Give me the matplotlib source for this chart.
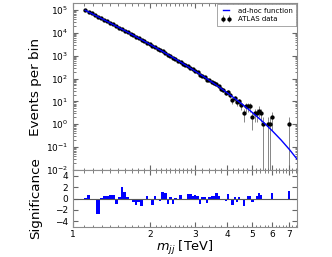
import numpy as np
import matplotlib
matplotlib.use("Agg")
import matplotlib.pyplot as plt
from matplotlib.ticker import FixedLocator, FuncFormatter, NullFormatter

# ---- data ----
edges_gev = [1100, 1133, 1166, 1200, 1234, 1269, 1305, 1341, 1378, 1416, 1454, 1493,
             1533, 1573, 1614, 1656, 1698, 1741, 1785, 1830, 1875, 1921, 1968, 2016,
             2065, 2114, 2164, 2215, 2267, 2320, 2374, 2429, 2485, 2542, 2600, 2659,
             2719, 2780, 2842, 2905, 2969, 3034, 3100, 3167, 3235, 3305, 3376, 3448,
             3521, 3596, 3672, 3749, 3827, 3907, 3988, 4070, 4154, 4239, 4326, 4414,
             4504, 4595, 4688, 4782, 4878, 4975, 5074, 5175, 5277, 5381, 5487, 5595,
             5705, 5817, 5931, 6047, 6165, 6285, 6407, 6531, 6658, 6787, 6918, 7052]

counts = [96430, 82510, 70120, 59620, 49980, 43380, 37170, 31740, 27000, 23230,
          19760, 17060, 14810, 12540, 10720, 9190, 7870, 6710, 5780, 4940,
          4330, 3750, 3190, 2700, 2400, 2050, 1750, 1560, 1340, 1100,
          982, 807, 717, 616, 546, 450, 383, 350, 300, 254,
          220, 188, 143, 136, 117, 89, 86, 74, 63, 58,
          46, 35, 31, 24, 26, 19, 11, 14, 9, 10,
          7, 3, 6, 6, 6, 2, 3, 3, 4, 3,
          1, 0, 1, 1, 2, 0, 0, 0, 0, 0,
          0, 0, 1]

significance = [0.1, 0.65, -0.1, -0.1, -2.7, 0.1, 0.5, 0.5, 0.65, 0.6,
                -0.9, 0.2, 2.1, 1.1, 0.2, -0.3, -0.7, -1.2, -0.6, -1.3,
                -0.2, 0.4, -0.1, -1.1, 0.4, -0.1, -0.5, 1.2, 0.9, -0.9,
                0.35, -0.9, 0.1, 0.0, 0.7, -0.2, -0.3, 0.8, 0.75, 0.5,
                0.6, 0.5, -1.0, 0.3, 0.3, -0.8, 0.3, 0.4, 0.4, 0.9,
                0.4, -0.3, 0.0, -0.5, 0.8, 0.0, -1.2, 0.3, -0.7, 0.35,
                -0.2, -1.3, 0.0, 0.5, 0.5, -0.6, 0.0, 0.5, 0.9, 0.7,
                0.0, 0.0, 0.0, 0.0, 1.0, 0.0, 0.0, 0.0, 0.0, 0.0,
                0.0, 0.0, 1.3]

fit_mass = [1.1165, 1.25, 1.4, 1.6, 1.8, 2.0, 2.25, 2.5, 2.75, 3.0, 3.25, 3.5,
            3.75, 4.0, 4.25, 4.5, 4.75, 5.0, 5.25, 5.5, 5.75, 6.0, 6.5, 7.0, 7.5]
fit_values = [96400, 50900, 26520, 12110, 5963, 3113, 1475, 740, 388, 211, 118.6, 68.2,
              40.0, 23.85, 14.42, 8.81, 5.43, 3.375, 2.107, 1.320, 0.829, 0.521, 0.205,
              0.0795, 0.0301]

x_ticks = [1, 2, 3, 4, 5, 6, 7]
sig_ticks = [-4, -2, 0, 2, 4]

# ---- figure ----
fig = plt.figure(figsize=(3.32, 2.57), dpi=100)
L, W = 0.22, 0.6746
ax = fig.add_axes([L, 0.3385, W, 0.6495])
ax2 = fig.add_axes([L, 0.1167, W, 0.2218], sharex=ax)

edges = np.array(edges_gev) / 1000.0
centers = 0.5 * (edges[:-1] + edges[1:])
cnt = np.array(counts, dtype=float)
m = cnt > 0
err = np.sqrt(cnt[m])
lo = np.where(err >= cnt[m], cnt[m] - 1e-6, err)

ax.plot(fit_mass, fit_values, color="blue", lw=1.0, label="ad-hoc function", zorder=3)
ax.errorbar(centers[m], cnt[m], yerr=[lo, err], fmt="o", color="k", ms=2.1,
            ecolor="0.4", elinewidth=0.55, capsize=0, label="ATLAS data", zorder=2)

ax.set_xscale("log")
ax.set_yscale("log")
ax.set_xlim(1, 7.5)
ax.set_ylim(1e-2, 2e5)

ax2.bar(edges[:-1], significance, width=np.diff(edges), align="edge",
        color="blue", edgecolor="none")
ax2.axhline(0, color="0.35", lw=0.8)
ax2.set_ylim(-5, 5)
ax2.set_yticks(sig_ticks)
ax2.set_yticklabels(["\u22124", "\u22122", "0", "2", "4"])

ax2.xaxis.set_major_locator(FixedLocator(x_ticks))
ax2.xaxis.set_major_formatter(FuncFormatter(lambda v, p: f"{v:g}"))
minor = list(np.arange(1.1, 3.0, 0.1)) + list(np.arange(3.2, 7.5, 0.2))
minor = [v for v in minor if abs(v - round(v)) > 1e-6]
ax2.xaxis.set_minor_locator(FixedLocator(minor))
ax2.xaxis.set_minor_formatter(NullFormatter())
plt.setp(ax.get_xticklabels(), visible=False)

for a in (ax, ax2):
    a.tick_params(which="both", direction="in", top=True, right=True,
                  labelsize=6.5, color="0.4")
    a.tick_params(which="major", length=3.5)
    a.tick_params(which="minor", length=1.8)
    for s in a.spines.values():
        s.set_color("0.55")
        s.set_linewidth(0.8)
ax2.tick_params(axis="x", which="both", pad=2)

ax.set_ylabel("Events per bin", fontsize=9.7)
ax2.set_ylabel("Significance", fontsize=9.7)
ax.yaxis.set_label_coords(-0.14, 0.5)
ax2.yaxis.set_label_coords(-0.14, 0.5)
ax2.set_xlabel("$m_{jj}$ [TeV]", fontsize=9.3, labelpad=0.5)

leg = ax.legend(loc="upper right", fontsize=5, numpoints=2, handlelength=1.4,
                handletextpad=1.0, borderaxespad=0.15, borderpad=0.5,
                labelspacing=0.35, fancybox=False, framealpha=1)
leg.get_frame().set_edgecolor("0.6")
leg.get_frame().set_linewidth(0.6)

fig.savefig("out.png", dpi=100)
